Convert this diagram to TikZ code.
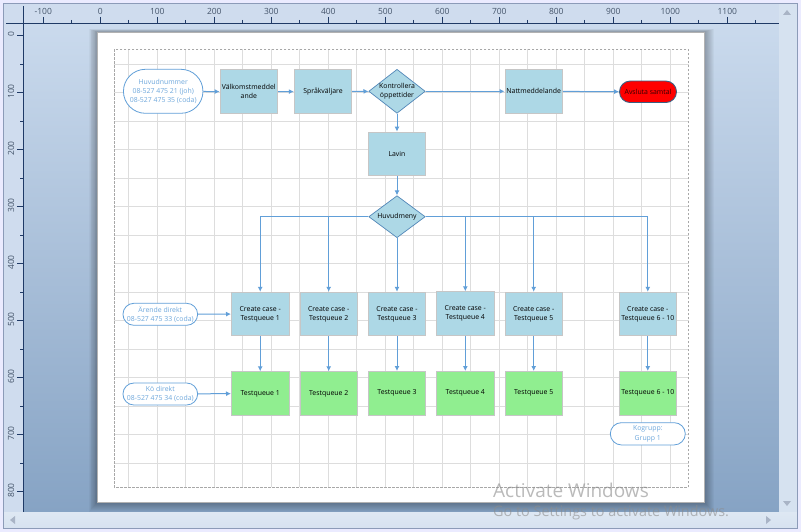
\documentclass[tikz,border=0pt]{standalone}
\usepackage{fontspec}
\setmainfont{Open Sans}
\usetikzlibrary{shapes.geometric,shapes.misc,arrows.meta}
\definecolor{winedge}{HTML}{8C9BB8}
\definecolor{rulerbg}{HTML}{CFDCEE}
\definecolor{rulerline}{HTML}{1F3A66}
\definecolor{rulertext}{HTML}{44546A}
\definecolor{wsTop}{HTML}{CADAED}
\definecolor{wsBot}{HTML}{86A3C4}
\definecolor{gridc}{HTML}{DDDDDD}
\definecolor{dashc}{HTML}{A8A8A8}
\definecolor{linkc}{HTML}{619FD8}
\definecolor{pilltext}{HTML}{6FA8DC}
\definecolor{boxedge}{HTML}{C6C6C6}
\definecolor{boxblue}{HTML}{ADD8E6}
\definecolor{boxgreen}{HTML}{90EE90}
\definecolor{scrollc}{HTML}{D6E2F0}
\definecolor{scrollarrow}{HTML}{A9B4C6}
\tikzset{
  x=1pt,y=-1pt,
  every node/.style={font=\fontsize{6.9}{9.3}\selectfont,align=center,inner sep=0pt,text=black},
  procbox/.style={rectangle,draw=boxedge,line width=0.9pt,fill=boxblue,minimum width=57.5pt,minimum height=43.5pt},
  queuebox/.style={procbox,fill=boxgreen},
  decide/.style={diamond,draw=linkc!85!black,line width=0.7pt,fill=boxblue,minimum width=56.5pt,minimum height=44pt},
  pill/.style={rounded rectangle,draw=linkc,line width=0.8pt,fill=white,text=pilltext},
  endpill/.style={rounded rectangle,draw=linkc!60!black,line width=0.9pt,fill=red,text=black!80!red,minimum width=57pt,minimum height=21.5pt},
  link/.style={draw=linkc,line width=1pt,-{Latex[length=5pt,width=5pt]}},
  rulerlab/.style={font=\fontsize{8.5}{10}\selectfont,text=rulertext},
  watermark/.style={text=black!45,opacity=0.6,anchor=west},
  gridline/.style={draw=gridc,line width=0.8pt},
  tickmark/.style={draw=rulerline,line width=0.8pt}
}
\begin{document}
\begin{tikzpicture}
\useasboundingbox (0,0) rectangle (801,532);
% window
\fill[white!92!blue] (0,0) rectangle (801,532);
\fill[rulerbg] (3.5,3.5) rectangle (797,528);
\shade[top color=wsTop,bottom color=wsBot] (23.5,23.5) rectangle (779,512);
\fill[scrollc] (779,3.5) rectangle (797,528);
\shade[top color=scrollc!80!white,bottom color=scrollc] (3.5,512) rectangle (797,528);
\draw[winedge,line width=1pt] (3.5,3.5) rectangle (797,528);
\fill[scrollarrow] (783,15) -- (787,10) -- (791,15) -- cycle;
\fill[scrollarrow] (783,501) -- (791,501) -- (787,506) -- cycle;
\fill[scrollarrow] (15,516) -- (15,524) -- (10,520) -- cycle;
\fill[scrollarrow] (766,516) -- (766,524) -- (771,520) -- cycle;
% rulers
\draw[tickmark] (6,23.5) -- (779,23.5);
\draw[tickmark] (23.5,6) -- (23.5,512);
\foreach \k/\t in {-1/-100,0/0,1/100,2/200,3/300,4/400,5/500,6/600,7/700,8/800,9/900,10/1000,11/1100}{
  \pgfmathsetmacro{\px}{100.3+57*\k}
  \draw[tickmark] (\px,17) -- (\px,23.5);
  \draw[tickmark] (\px+28.5,20) -- (\px+28.5,23.5);
  \node[rulerlab] (rx\t) at (\px,11.5) {\t};
}
\foreach \k/\t in {0/0,1/100,2/200,3/300,4/400,5/500,6/600,7/700,8/800}{
  \pgfmathsetmacro{\py}{35.5+57*\k}
  \draw[tickmark] (17,\py) -- (23.5,\py);
  \ifnum\k<8 \draw[tickmark] (20,\py+28.5) -- (23.5,\py+28.5);\fi
  \node[rulerlab,rotate=90] (ry\t) at (11,\py-1) {\t};
}
% page shadow
\foreach \d in {1,...,10}{
  \fill[black,opacity=0.03] (97-0.8*\d,32-0.3*\d) rectangle (704.3+\d,502+\d);
}
\fill[white] (97,32) rectangle (704.3,502);
\draw[black!30,line width=0.6pt] (97,32) rectangle (704.3,502);
% grid
\foreach \k in {1,...,20}{\draw[gridline] (100.3+28.5*\k,49.3) -- (100.3+28.5*\k,487.3);}
\foreach \k in {1,...,15}{\draw[gridline] (113.5,35.5+28.5*\k) -- (689,35.5+28.5*\k);}
\draw[dashc,line width=0.8pt,dash pattern=on 2.5pt off 1.5pt] (114.3,49.3) rectangle (688.3,487.3);
% nodes
\node[pill,minimum width=79.5pt,minimum height=44pt] (main) at (163.2,91.3) {Huvudnummer\\08-527 475 21 (joh)\\08-527 475 35 (coda)};
\node[procbox] (welcome) at (248.8,91.7) {Välkomstmeddel\\ande};
\node[procbox] (lang) at (323,91.5) {Språkväljare};
\node[decide,label={[align=center]center:Kontrollera\\öppettider}] (hours) at (397,91.3) {};
\node[procbox] (night) at (533.7,91.3) {Nattmeddelande};
\node[endpill] (end) at (648,91.8) {Avsluta samtal};
\node[procbox] (lavin) at (397,153.8) {Lavin};
\node[decide,minimum height=42pt,label={[align=center]center:Huvudmeny}] (menu) at (397,216.7) {};
\node[pill,minimum width=74.7pt,minimum height=22pt] (direct) at (160.3,314.3) {Ärende direkt\\08-527 475 33 (coda)};
\node[pill,minimum width=74.7pt,minimum height=22pt] (qdirect) at (160.3,394) {Kö direkt\\08-527 475 34 (coda)};
\node[procbox] (c1) at (260.2,314) {Create case -\\Testqueue 1};
\node[procbox] (c2) at (328.7,314) {Create case -\\Testqueue 2};
\node[procbox] (c3) at (397,314) {Create case -\\Testqueue 3};
\node[procbox] (c4) at (465.3,313.5) {Create case -\\Testqueue 4};
\node[procbox] (c5) at (533.7,314) {Create case -\\Testqueue 5};
\node[procbox] (c6) at (647.8,314) {Create case -\\Testqueue 6 - 10};
\node[queuebox] (q1) at (260.2,393.5) {Testqueue 1};
\node[queuebox] (q2) at (328.7,393.5) {Testqueue 2};
\node[queuebox] (q3) at (397,393.2) {Testqueue 3};
\node[queuebox] (q4) at (465.3,393.2) {Testqueue 4};
\node[queuebox] (q5) at (533.7,393.2) {Testqueue 5};
\node[queuebox] (q6) at (647.8,393.2) {Testqueue 6 - 10};
\node[pill,minimum width=75pt,minimum height=22.3pt] (group) at (647.8,433.8) {Kogrupp:\\Grupp 1};
% connectors
\draw[link] (main) -- (welcome);
\draw[link] (welcome) -- (lang);
\draw[link] (lang) -- (hours);
\draw[link] (hours) -- (night);
\draw[link] (night) -- (end);
\draw[link] (hours) -- (lavin);
\draw[link] (lavin) -- (menu);
\draw[link] (menu.west) -| (c1.north);
\draw[link] (menu.west) -| (c2.north);
\draw[link] (menu.south) -- (c3.north);
\draw[link] (menu.east) -| (c4.north);
\draw[link] (menu.east) -| (c5.north);
\draw[link] (menu.east) -| (c6.north);
\draw[link] (direct) -- (c1);
\draw[link] (qdirect) -- (q1);
\draw[link] (c1) -- (q1);
\draw[link] (c2) -- (q2);
\draw[link] (c3) -- (q3);
\draw[link] (c4) -- (q4);
\draw[link] (c5) -- (q5);
\draw[link] (c6) -- (q6);
% watermark
\node[watermark,font=\fontsize{19}{22}\selectfont] (wm1) at (493,490) {Activate Windows};
\node[watermark,font=\fontsize{14.4}{17}\selectfont] (wm2) at (493,513) {Go to Settings to activate Windows.};
\end{tikzpicture}
\end{document}
